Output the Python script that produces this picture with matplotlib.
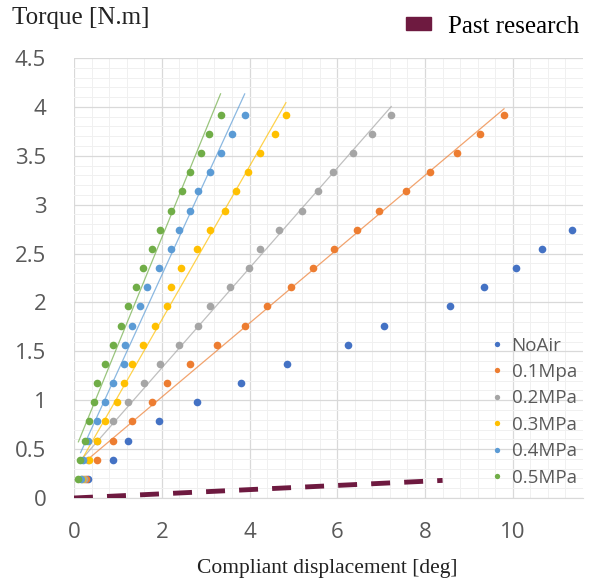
import numpy as np
import matplotlib
matplotlib.use("Agg")
import matplotlib.pyplot as plt
from matplotlib.patches import Patch
from matplotlib.ticker import MultipleLocator

# torque steps (N.m)
step = 0.196
torque = [round(step * k, 3) for k in range(1, 21)]

# compliant displacement [deg]
noair = [0.32, 0.89, 1.23, 1.94, 2.80, 3.80, 4.85, 6.25, 7.07, 8.57, 9.34, 10.07, 10.66, 11.36]
mpa01 = [0.27, 0.53, 0.89, 1.32, 1.77, 2.12, 2.65, 3.26, 3.89, 4.40,
         4.95, 5.45, 5.92, 6.45, 6.95, 7.57, 8.11, 8.73, 9.25, 9.80]
mpa02 = [0.22, 0.33, 0.52, 0.89, 1.23, 1.59, 1.95, 2.39, 2.82, 3.09,
         3.55, 3.98, 4.23, 4.67, 5.20, 5.55, 5.90, 6.35, 6.80, 7.23]
mpa03 = [0.18, 0.35, 0.52, 0.70, 0.97, 1.14, 1.33, 1.58, 1.84, 2.11,
         2.20, 2.44, 2.80, 3.09, 3.45, 3.70, 3.96, 4.23, 4.59, 4.83]
mpa04 = [0.15, 0.20, 0.32, 0.53, 0.70, 0.88, 1.14, 1.16, 1.33, 1.50,
         1.67, 1.94, 2.20, 2.39, 2.64, 2.83, 3.09, 3.34, 3.60, 3.89]
mpa05 = [0.10, 0.14, 0.25, 0.35, 0.45, 0.53, 0.70, 0.89, 1.06, 1.23,
         1.41, 1.57, 1.77, 1.95, 2.20, 2.46, 2.64, 2.89, 3.08, 3.34]

past_x = [0.0, 8.4]
past_y = [0.0, 0.18]

names = ["NoAir", "0.1Mpa", "0.2MPa", "0.3MPa", "0.4MPa", "0.5MPa"]
colors = ["#4472C4", "#ED7D31", "#A5A5A5", "#FFC000", "#5B9BD5", "#70AD47"]
series = [noair, mpa01, mpa02, mpa03, mpa04, mpa05]

fig = plt.figure(figsize=(5.9, 5.82), dpi=100)
ax = fig.add_axes([74/590, 1-498/582, (583-74)/590, (498-58)/582])

# trend lines (linear) for pressurised cases
for xs, c in zip(series[1:], colors[1:]):
    xs = np.array(xs)
    ys = np.array(torque[:len(xs)])
    a, b = np.polyfit(xs, ys, 1)
    xx = np.array([xs.min(), xs.max()])
    ax.plot(xx, a*xx + b, color=c, lw=0.9, alpha=0.7, zorder=2)

handles = []
for xs, c, n in zip(series, colors, names):
    h, = ax.plot(xs, torque[:len(xs)], "o", color=c, ms=5.5, mec="none",
                 label=n, zorder=3)
    handles.append(h)

ax.plot(past_x, past_y, color="#6E1A40", lw=3.5, dashes=(3.9, 2.9), zorder=4)

ax.set_xlim(0, 11.6)
ax.set_ylim(0, 4.5)
ax.xaxis.set_major_locator(MultipleLocator(2))
ax.xaxis.set_minor_locator(MultipleLocator(0.4))
ax.yaxis.set_major_locator(MultipleLocator(0.5))
ax.yaxis.set_minor_locator(MultipleLocator(0.1))
ax.grid(which="major", color="#D9D9D9", lw=0.9)
ax.grid(which="minor", color="#F0F0F0", lw=0.7)
ax.set_axisbelow(True)
for s in ["top", "right", "left"]:
    ax.spines[s].set_visible(False)
ax.spines["bottom"].set_color("#D9D9D9")
ax.tick_params(which="both", length=0)
ax.tick_params(axis="both", labelsize=16, labelcolor="#595959")
ax.tick_params(axis="y", pad=20)
ax.tick_params(axis="x", pad=17)
ax.set_yticks(np.arange(0, 4.51, 0.5))
ax.set_yticklabels(["0", "0.5", "1", "1.5", "2", "2.5", "3", "3.5", "4", "4.5"],
                   fontfamily="Open Sans")
ax.set_xticks([0, 2, 4, 6, 8, 10])
ax.set_xticklabels(["0", "2", "4", "6", "8", "10"], fontfamily="Open Sans")

leg = ax.legend(handles=handles, loc="lower right", bbox_to_anchor=(1.01, 0.0),
                frameon=False, prop={"family": "Open Sans", "size": 13.5},
                labelcolor="#595959", markerscale=0.7, handlelength=0.6,
                handletextpad=0.5, labelspacing=0.45, borderaxespad=0.2)

fig.legend(handles=[Patch(color="#6E1A40")], labels=["Past research"],
           loc="upper right", bbox_to_anchor=(1.02, 1.012), frameon=False,
           prop={"family": "Liberation Serif", "size": 18},
           handlelength=1.0, handleheight=0.45, handletextpad=0.7)

fig.text(12/590, 1-18/582, "Torque [N.m]", fontfamily="Liberation Serif",
         fontsize=18, va="center", ha="left", color="#222222")
fig.text(327/590, 1-568/582, "Compliant displacement [deg]",
         fontfamily="Liberation Serif", fontsize=15.5, va="center", ha="center",
         color="#222222")

fig.savefig("out.png", dpi=100)
